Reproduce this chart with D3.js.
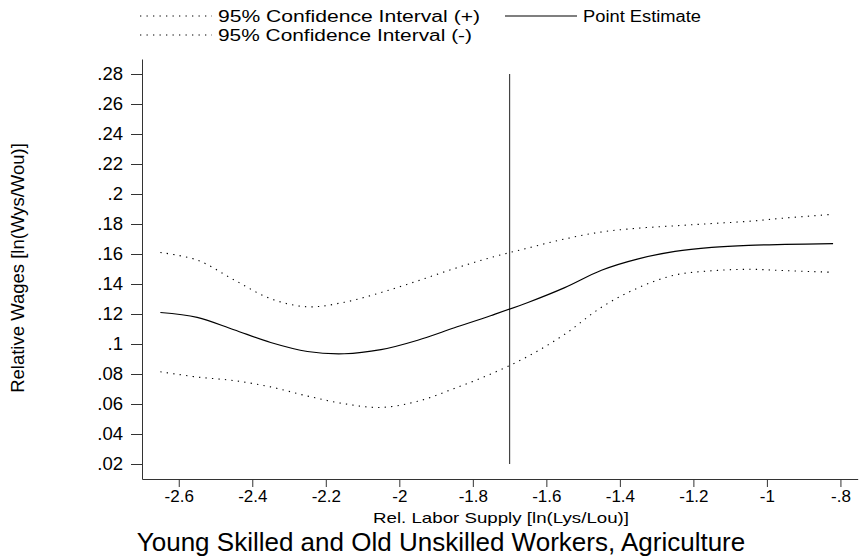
<!DOCTYPE html>
<html>
<head>
<meta charset="utf-8">
<script src="https://cdn.jsdelivr.net/npm/d3@7"></script>
<style>
  body { margin: 0; background: #fff; }
  text { font-family: "Liberation Sans", Arial, sans-serif; fill: #000; }
</style>
</head>
<body>
<div id="chart"></div>
<script>
// supply values (x) shared by all three curves
var supply = [-2.65, -2.55, -2.45, -2.35, -2.25, -2.15, -2.05, -1.95, -1.85, -1.75,
              -1.65, -1.55, -1.45, -1.35, -1.25, -1.15, -1.05, -0.95, -0.82];
var pointEst = [0.121, 0.1178, 0.1095, 0.101, 0.095, 0.0935, 0.0962, 0.1025, 0.1108, 0.119,
                0.1277, 0.1376, 0.1492, 0.1568, 0.1617, 0.1644, 0.1658, 0.1664, 0.1669];
var ciUpper = [0.161, 0.156, 0.1428, 0.1302, 0.1248, 0.1278, 0.1343, 0.1421, 0.1503, 0.1577,
               0.164, 0.170, 0.1747, 0.1772, 0.1788, 0.1803, 0.1818, 0.184, 0.1865];
var ciLower = [0.0815, 0.078, 0.0756, 0.0714, 0.0653, 0.0602, 0.0577, 0.0618, 0.0704, 0.0801,
               0.0918, 0.1065, 0.1245, 0.1375, 0.146, 0.1488, 0.1498, 0.1489, 0.1478];
var cutoff = -1.7;
var xTicks = [-2.6, -2.4, -2.2, -2, -1.8, -1.6, -1.4, -1.2, -1, -0.8];
var yTicks = [0.02, 0.04, 0.06, 0.08, 0.1, 0.12, 0.14, 0.16, 0.18, 0.2, 0.22, 0.24, 0.26, 0.28];

var w = 862, h = 558;

var svg = d3.select("#chart").append("svg")
  .attr("width", w)
  .attr("height", h);

var x = d3.scaleLinear().domain([-2.7, -0.753]).range([142, 857.7]);
var y = d3.scaleLinear().domain([0.01, 0.29]).range([479, 59]);

// stata style labels: .28, -2, -.8
function stata(v) {
  var s = String(+v.toFixed(2));
  return s.replace(/^(-?)0\./, "$1.");
}

var yAxis = d3.axisLeft(y).tickValues(yTicks).tickSize(11).tickSizeOuter(0).tickPadding(8).tickFormat(stata);
var xAxis = d3.axisBottom(x).tickValues(xTicks).tickSize(8).tickSizeOuter(0).tickPadding(3).tickFormat(stata);

var gy = svg.append("g").attr("transform", "translate(142,0)").call(yAxis);
gy.selectAll("text").style("font-size", "18.5px").attr("fill", "#000");
gy.selectAll("path, line").attr("stroke", "#333");

var gx = svg.append("g").attr("transform", "translate(0,479)").call(xAxis);
gx.selectAll("text").style("font-size", "17px").attr("fill", "#000");
gx.selectAll("path, line").attr("stroke", "#333");

// vertical reference line at the cutoff
svg.append("line")
  .attr("x1", x(cutoff)).attr("x2", x(cutoff))
  .attr("y1", y(0.28)).attr("y2", y(0.02))
  .attr("stroke", "#444")
  .attr("stroke-width", 1.2);

var line = d3.line()
  .x(function(d) { return x(d[0]); })
  .y(function(d) { return y(d[1]); })
  .curve(d3.curveCatmullRom);

function pairs(vals) {
  return supply.map(function(s, i) { return [s, vals[i]]; });
}

svg.append("path").datum(pairs(ciUpper))
  .attr("d", line).attr("fill", "none")
  .attr("stroke", "#000").attr("stroke-width", 1.1)
  .attr("stroke-dasharray", "1.3,5.2");

svg.append("path").datum(pairs(ciLower))
  .attr("d", line).attr("fill", "none")
  .attr("stroke", "#000").attr("stroke-width", 1.1)
  .attr("stroke-dasharray", "1.3,5.2");

svg.append("path").datum(pairs(pointEst))
  .attr("d", line).attr("fill", "none")
  .attr("stroke", "#000").attr("stroke-width", 1.2);

// legend
var legend = [
  {label: "95% Confidence Interval (+)", lx: 140, ly: 16, dash: "1.3,5.2", len: 262},
  {label: "95% Confidence Interval (-)", lx: 140, ly: 35, dash: "1.3,5.2", len: 254},
  {label: "Point Estimate", lx: 505, ly: 16, dash: null, len: 118}
];

var lg = svg.selectAll("g.legend").data(legend).enter().append("g").attr("class", "legend");
lg.append("line")
  .attr("x1", function(d) { return d.lx; })
  .attr("x2", function(d) { return d.lx + 72; })
  .attr("y1", function(d) { return d.ly; })
  .attr("y2", function(d) { return d.ly; })
  .attr("stroke", "#000")
  .attr("stroke-width", 1.1)
  .attr("stroke-dasharray", function(d) { return d.dash; });
lg.append("text")
  .attr("x", function(d) { return d.lx + 78; })
  .attr("y", function(d) { return d.ly + 6; })
  .style("font-size", "16px")
  .attr("textLength", function(d) { return d.len; })
  .attr("lengthAdjust", "spacingAndGlyphs")
  .text(function(d) { return d.label; });

// axis titles
svg.append("text")
  .attr("transform", "translate(24,268) rotate(-90)")
  .attr("text-anchor", "middle")
  .style("font-size", "18.5px")
  .text("Relative Wages [ln(Wys/Wou)]");

svg.append("text")
  .attr("x", 501).attr("y", 523)
  .attr("text-anchor", "middle")
  .style("font-size", "15px")
  .attr("textLength", 256)
  .attr("lengthAdjust", "spacingAndGlyphs")
  .text("Rel. Labor Supply [ln(Lys/Lou)]");

svg.append("text")
  .attr("x", 441).attr("y", 550.5)
  .attr("text-anchor", "middle")
  .style("font-size", "26px")
  .text("Young Skilled and Old Unskilled Workers, Agriculture");
</script>
</body>
</html>
